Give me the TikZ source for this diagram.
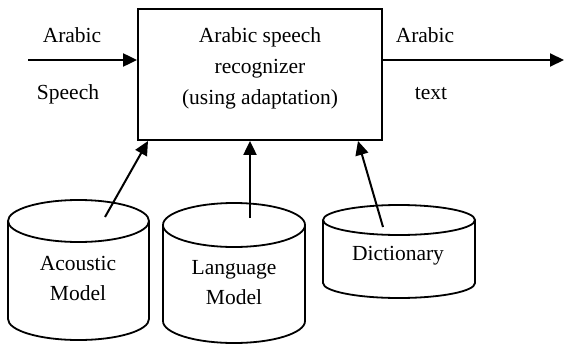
\documentclass[tikz,border=0pt]{standalone}
\usepackage{fontspec}
\setmainfont{Liberation Serif}
\usetikzlibrary{arrows.meta}
\tikzset{
  lbl/.style={font=\fontsize{21.5}{24}\selectfont, inner sep=0pt, anchor=base},
  conn/.style={line width=2pt, -{Triangle[length=14pt,width=13pt]}},
  shp/.style={line width=1.8pt},
}
\newcommand{\mycyl}[5]{%
  \draw[shp] (#1,#2) ellipse [x radius=#4, y radius=#5];
  \draw[shp] (#1-#4,#2) -- (#1-#4,#3) arc[start angle=180,end angle=0,x radius=#4,y radius=#5] -- (#1+#4,#2);
}
\begin{document}
\begin{tikzpicture}[x=1pt,y=-1pt]
\useasboundingbox (0,0) rectangle (564,345);
% main box
\node[draw, line width=1.8pt, minimum width=244pt, minimum height=131pt, inner sep=0pt] (rec) at (260,74.5) {};
\node[lbl] (t1) at (260,42) {Arabic speech};
\node[lbl] (t2) at (260,74) {recognizer};
\node[lbl] (t3) at (260,104) {(using adaptation)};
% input / output
\coordinate (in) at (28,60);
\coordinate (out) at (564,60);
\draw[conn] (in) -- (in -| rec.west);
\draw[conn] (out -| rec.east) -- (out);
\node[lbl] (a1) at (72,43) {Arabic};
\node[lbl] (s1) at (68,99) {Speech};
\node[lbl] (a2) at (425,43) {Arabic};
\node[lbl] (x2) at (431,99) {text};
% cylinders
\mycyl{78.5}{221}{319}{70.5}{21}
\mycyl{234}{225}{321}{71}{22}
\mycyl{399}{220}{283}{76}{15}
\node[lbl] (ac) at (78,270) {Acoustic};
\node[lbl] (am) at (78,300) {Model};
\node[lbl] (la) at (234,274) {Language};
\node[lbl] (lm) at (234,304) {Model};
\node[lbl] (di) at (398,260) {Dictionary};
% connectors from cylinders
\coordinate (c1) at (105,217);
\coordinate (c2) at (250,218);
\coordinate (c3) at (383,227);
\coordinate (e1) at (148,141);
\coordinate (e3) at (358,141);
\draw[conn] (c1) -- (e1);
\draw[conn] (c2) -- (c2 |- rec.south);
\draw[conn] (c3) -- (e3);
\end{tikzpicture}
\end{document}
